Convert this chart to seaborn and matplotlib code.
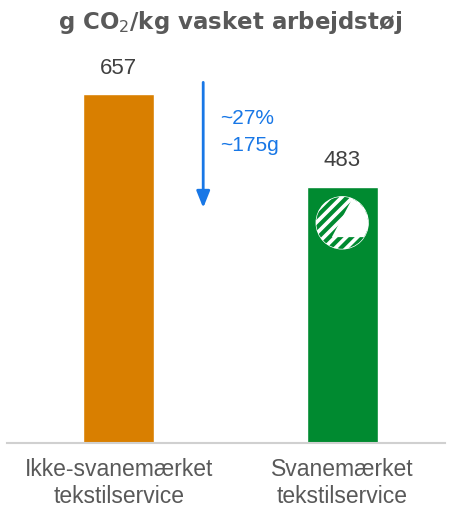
import pandas as pd
import matplotlib.pyplot as plt
import matplotlib.patches as mpatches
import seaborn as sns

# Data
categories = ["Ikke-svanemærket\ntekstilservice", "Svanemærket\ntekstilservice"]
values = [657, 483]
colors = ["#D97F00", "#008A30"]
reduction_pct = "~27%"
reduction_g = "~175g"

df = pd.DataFrame({"kategori": categories, "g_co2": values})

sns.set_style("white")
plt.rcParams["font.family"] = ["Liberation Sans", "DejaVu Sans"]
plt.rcParams["hatch.linewidth"] = 3.0

fig = plt.figure(figsize=(4.5, 5.09), dpi=100)
ax = fig.add_axes([7 / 450, 66 / 509, 438 / 450, 382 / 509])

sns.barplot(data=df, x="kategori", y="g_co2", hue="kategori", palette=colors,
            width=0.317, legend=False, ax=ax, saturation=1)

ax.set_xlim(-0.5, 1.46)
ax.set_ylim(0, 720)
ax.set_xlabel("")
ax.set_ylabel("")
ax.set_yticks([])
sns.despine(ax=ax, left=True)
ax.spines["bottom"].set_color("#d0d0d0")
ax.spines["bottom"].set_linewidth(1.5)
ax.tick_params(axis="x", length=0, pad=11, labelsize=16.5, labelcolor="#595959")
for lbl in ax.get_xticklabels():
    lbl.set_linespacing(1.2)

# value labels
for i, v in enumerate(values):
    ax.text(i, v + 30, str(v), ha="center", va="bottom", fontsize=16, color="#404040")

# reduction arrow
ax.annotate("", xy=(0.378, 438), xytext=(0.378, 685),
            arrowprops=dict(arrowstyle="-|>,head_width=0.4,head_length=1.0",
                            color="#1877E6", lw=2))
ax.text(0.455, 586, reduction_pct + "\n" + reduction_g, ha="left", va="center",
        fontsize=15, color="#1877E6", linespacing=1.5)

# swan label on the green bar
cx, cy = 1.0, 415
rx, ry = 0.116, 49
circ = mpatches.Ellipse((cx, cy), 2 * rx, 2 * ry, facecolor="white", edgecolor="white", lw=1)
ax.add_patch(circ)
stripes = mpatches.Ellipse((cx, cy), 2 * rx, 2 * ry, facecolor="none", edgecolor="#008A30",
                           hatch="///", lw=0)
ax.add_patch(stripes)
swan = mpatches.Polygon([(cx - 0.4 * rx, cy - 0.55 * ry), (cx + 0.45 * rx, cy + 1.05 * ry),
                         (cx + 1.1 * rx, cy + 1.05 * ry), (cx + 1.1 * rx, cy - 0.55 * ry)],
                        facecolor="white", edgecolor="none")
ax.add_patch(swan)
swan.set_clip_path(circ)

fig.text(0.511, 0.955, "g CO$_2$/kg vasket arbejdstøj", ha="center", va="center",
         fontsize=16.5, fontweight="bold", color="#595959", family=["DejaVu Sans"])

fig.savefig("out.png", dpi=100)
